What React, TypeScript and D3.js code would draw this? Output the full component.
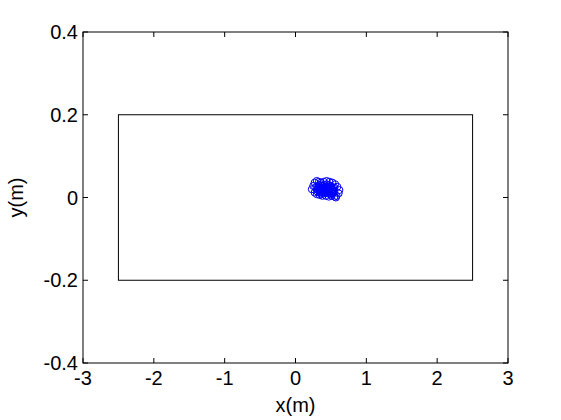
import React, { useEffect, useRef } from "react";
import * as d3 from "d3";

// tick values
const xTicks = [-3, -2, -1, 0, 1, 2, 3];
const yTicks = [-0.4, -0.2, 0, 0.2, 0.4];

// boundary rectangle (m)
const boxX = [-2.5, 2.5];
const boxY = [-0.2, 0.2];

// particle positions (m)
const px = [
  0.23, 0.25, 0.27, 0.3, 0.33, 0.36, 0.4, 0.44, 0.48, 0.52, 0.56, 0.59, 0.62, 0.61, 0.58, 0.55,
  0.51, 0.47, 0.43, 0.38, 0.34, 0.3, 0.27, 0.57, 0.32, 0.35, 0.38, 0.41, 0.44, 0.47, 0.5, 0.53,
  0.34, 0.37, 0.4, 0.43, 0.46, 0.49, 0.52, 0.36, 0.39, 0.42, 0.45, 0.48, 0.51, 0.3, 0.55, 0.41,
  0.31, 0.33, 0.35, 0.37, 0.39, 0.41, 0.43, 0.45, 0.47, 0.49, 0.51, 0.53, 0.55, 0.32, 0.34, 0.36,
  0.38, 0.4, 0.42, 0.44, 0.46, 0.48, 0.5, 0.52, 0.54, 0.33, 0.37, 0.41, 0.45, 0.49, 0.53, 0.28,
];
const py = [
  0.02, 0.028, 0.036, 0.04, 0.038, 0.036, 0.038, 0.04, 0.038, 0.036, 0.032, 0.026, 0.018, 0.01,
  0.004, 0.002, 0.004, 0.002, 0.004, 0.004, 0.006, 0.008, 0.012, 0.0, 0.026, 0.03, 0.028, 0.03,
  0.032, 0.03, 0.028, 0.024, 0.018, 0.02, 0.022, 0.018, 0.02, 0.022, 0.016, 0.012, 0.01, 0.012,
  0.01, 0.012, 0.01, 0.02, 0.016, 0.016, 0.014, 0.024, 0.014, 0.024, 0.016, 0.024, 0.014, 0.026,
  0.016, 0.026, 0.02, 0.018, 0.024, 0.018, 0.012, 0.022, 0.018, 0.014, 0.026, 0.02, 0.014, 0.018,
  0.024, 0.02, 0.012, 0.03, 0.008, 0.02, 0.022, 0.008, 0.01, 0.024,
];

const App = () => {
  const ref = useRef<SVGSVGElement | null>(null);

  useEffect(() => {
    const width = 561;
    const height = 420;
    const margin = { top: 32, right: 53, bottom: 57, left: 83 };

    const svg = d3.select(ref.current);
    svg.selectAll("*").remove();

    const x = d3.scaleLinear().domain([-3, 3]).range([margin.left, width - margin.right]);
    const y = d3.scaleLinear().domain([-0.4, 0.4]).range([height - margin.bottom, margin.top]);

    svg.append("rect").attr("width", width).attr("height", height).attr("fill", "#fff");

    const font = "'Liberation Sans', Arial, sans-serif";

    // axes frame
    svg
      .append("rect")
      .attr("x", x(-3))
      .attr("y", y(0.4))
      .attr("width", x(3) - x(-3))
      .attr("height", y(-0.4) - y(0.4))
      .attr("fill", "none")
      .attr("stroke", "#000")
      .attr("stroke-width", 1);

    const tl = 5;
    xTicks.forEach((t) => {
      svg.append("line").attr("x1", x(t)).attr("x2", x(t)).attr("y1", y(-0.4)).attr("y2", y(-0.4) - tl).attr("stroke", "#000");
      svg.append("line").attr("x1", x(t)).attr("x2", x(t)).attr("y1", y(0.4)).attr("y2", y(0.4) + tl).attr("stroke", "#000");
      svg
        .append("text")
        .attr("x", x(t))
        .attr("y", y(-0.4) + 22)
        .attr("text-anchor", "middle")
        .attr("font-family", font)
        .attr("font-size", 20)
        .text(String(t));
    });
    yTicks.forEach((t) => {
      svg.append("line").attr("x1", x(-3)).attr("x2", x(-3) + tl).attr("y1", y(t)).attr("y2", y(t)).attr("stroke", "#000");
      svg.append("line").attr("x1", x(3)).attr("x2", x(3) - tl).attr("y1", y(t)).attr("y2", y(t)).attr("stroke", "#000");
      svg
        .append("text")
        .attr("x", x(-3) - 5)
        .attr("y", y(t) + 7)
        .attr("text-anchor", "end")
        .attr("font-family", font)
        .attr("font-size", 20)
        .text(String(t));
    });

    // boundary
    svg
      .append("rect")
      .attr("x", x(boxX[0]))
      .attr("y", y(boxY[1]))
      .attr("width", x(boxX[1]) - x(boxX[0]))
      .attr("height", y(boxY[0]) - y(boxY[1]))
      .attr("fill", "none")
      .attr("stroke", "#000");

    // particles
    svg
      .append("g")
      .selectAll("circle")
      .data(px.map((v, i) => [v, py[i]]))
      .join("circle")
      .attr("cx", (d) => x(d[0]))
      .attr("cy", (d) => y(d[1]))
      .attr("r", 3.5)
      .attr("fill", "none")
      .attr("stroke", "#0000ff")
      .attr("stroke-width", 1);

    svg
      .append("text")
      .attr("x", x(0))
      .attr("y", 412)
      .attr("text-anchor", "middle")
      .attr("font-family", font)
      .attr("font-size", 20)
      .text("x(m)");

    svg
      .append("text")
      .attr("transform", `translate(23,${y(0)}) rotate(-90)`)
      .attr("text-anchor", "middle")
      .attr("font-family", font)
      .attr("font-size", 20)
      .text("y(m)");
  }, []);

  return (
    <svg
      ref={ref}
      width={561}
      height={420}
      style={{ position: "absolute", left: 0, top: 0, display: "block" }}
    />
  );
};

export default App;
